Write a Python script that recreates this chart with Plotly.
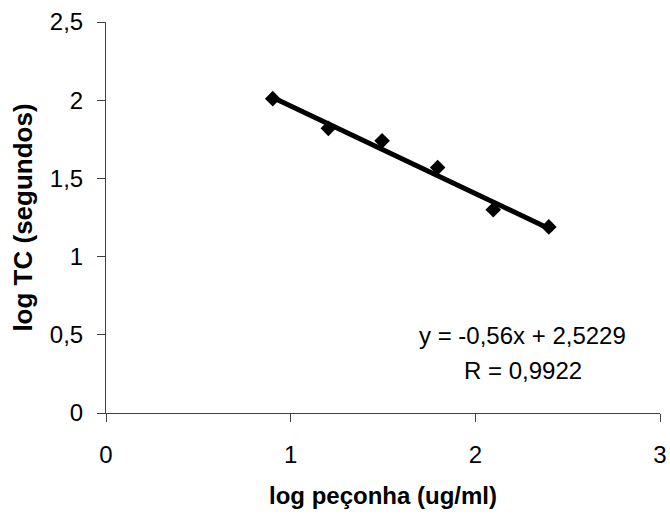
import plotly.graph_objects as go

log_peconha = [0.903, 1.204, 1.495, 1.796, 2.097, 2.398]
log_tc = [2.01, 1.82, 1.74, 1.57, 1.30, 1.19]
slope = -0.56
intercept = 2.5229
r_value = "0,9922"

trend_x = [min(log_peconha), max(log_peconha)]
trend_y = [slope * v + intercept for v in trend_x]

FONT = "Liberation Sans, Arial, sans-serif"
FS = 24

fig = go.Figure()
fig.add_trace(go.Scatter(x=trend_x, y=trend_y, mode="lines",
                         line=dict(color="black", width=5), hoverinfo="skip"))
fig.add_trace(go.Scatter(x=log_peconha, y=log_tc, mode="markers",
                         marker=dict(symbol="diamond", size=12, color="black")))

fig.add_annotation(x=0.752, y=0.198, xref="paper", yref="paper",
                   xanchor="center", yanchor="middle",
                   text="y = -0,56x + 2,5229",
                   showarrow=False, font=dict(family=FONT, size=FS, color="black"))
fig.add_annotation(x=0.752, y=0.108, xref="paper", yref="paper",
                   xanchor="center", yanchor="middle",
                   text="R = " + r_value,
                   showarrow=False, font=dict(family=FONT, size=FS, color="black"))

fig.update_layout(
    width=670, height=519,
    margin=dict(l=106, r=10, t=22, b=106),
    paper_bgcolor="white", plot_bgcolor="white",
    showlegend=False,
    separators=",.",
    font=dict(family=FONT, size=FS, color="black"),
    xaxis=dict(range=[0, 3], dtick=1, tick0=0, showgrid=False, zeroline=False,
               showline=True, linecolor="#404040", linewidth=1, automargin=False,
               ticks="outside", ticklen=8, tickcolor="#404040", ticklabelstandoff=12,
               title=dict(text="<b>log peçonha (ug/ml)</b>", standoff=20,
                          font=dict(family=FONT, size=24))),
    yaxis=dict(range=[0, 2.5], dtick=0.5, tick0=0, showgrid=False, zeroline=False,
               showline=True, linecolor="#404040", linewidth=1, automargin=False,
               ticks="outside", ticklen=8, tickcolor="#404040", ticklabelstandoff=9,
               title=dict(text="<b>log TC (segundos)</b>", standoff=9,
                          font=dict(family=FONT, size=26))),
)

fig.write_html("out.html", config={"displayModeBar": False},
               post_script="document.body.style.margin='0';")
